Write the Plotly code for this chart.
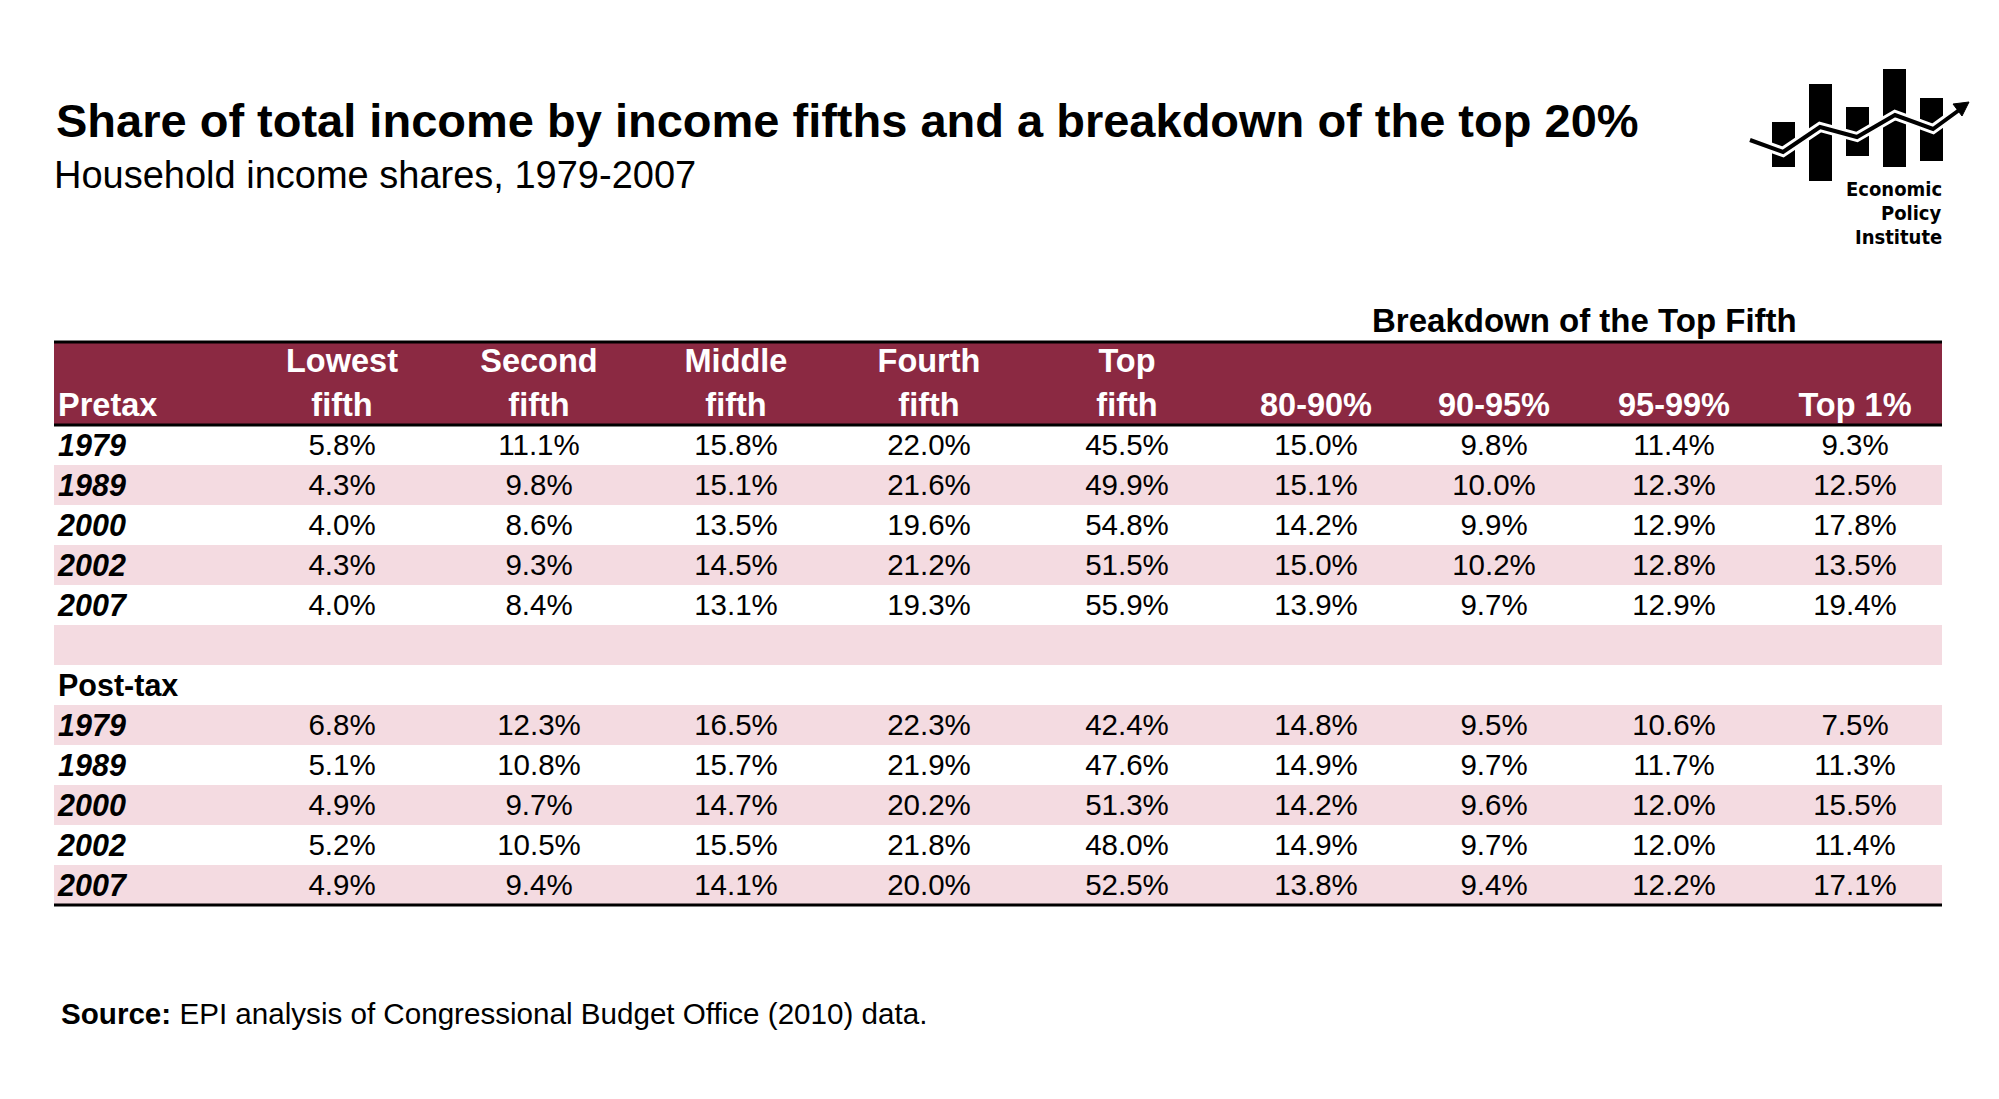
import plotly.graph_objects as go

# ---------------- data ----------------
title = "Share of total income by income fifths and a breakdown of the top 20%"
subtitle = "Household income shares, 1979-2007"
source_label = "Source:"
source_text = "EPI analysis of Congressional Budget Office (2010) data."
group_header = "Breakdown of the Top Fifth"
logo_words = ["Economic", "Policy", "Institute"]

header_line1 = ["", "Lowest", "Second", "Middle", "Fourth", "Top", "", "", "", ""]
header_line2 = ["Pretax", "fifth", "fifth", "fifth", "fifth", "fifth", "80-90%", "90-95%", "95-99%", "Top 1%"]

years = ["1979", "1989", "2000", "2002", "2007"]
section2_label = "Post-tax"

pretax_lowest = [5.8, 4.3, 4.0, 4.3, 4.0]
pretax_second = [11.1, 9.8, 8.6, 9.3, 8.4]
pretax_middle = [15.8, 15.1, 13.5, 14.5, 13.1]
pretax_fourth = [22.0, 21.6, 19.6, 21.2, 19.3]
pretax_top = [45.5, 49.9, 54.8, 51.5, 55.9]
pretax_p80_90 = [15.0, 15.1, 14.2, 15.0, 13.9]
pretax_p90_95 = [9.8, 10.0, 9.9, 10.2, 9.7]
pretax_p95_99 = [11.4, 12.3, 12.9, 12.8, 12.9]
pretax_top1 = [9.3, 12.5, 17.8, 13.5, 19.4]

posttax_lowest = [6.8, 5.1, 4.9, 5.2, 4.9]
posttax_second = [12.3, 10.8, 9.7, 10.5, 9.4]
posttax_middle = [16.5, 15.7, 14.7, 15.5, 14.1]
posttax_fourth = [22.3, 21.9, 20.2, 21.8, 20.0]
posttax_top = [42.4, 47.6, 51.3, 48.0, 52.5]
posttax_p80_90 = [14.8, 14.9, 14.2, 14.9, 13.8]
posttax_p90_95 = [9.5, 9.7, 9.6, 9.7, 9.4]
posttax_p95_99 = [10.6, 11.7, 12.0, 12.0, 12.2]
posttax_top1 = [7.5, 11.3, 15.5, 11.4, 17.1]

# ---------------- layout ----------------
W, H = 1999, 1099
FONT = "Liberation Sans, Arial, sans-serif"
MAROON = "#8B2942"
PINK = "#F4DBE1"

# column edges and row geometry of the table (pixel units on hidden axes)
col_edges = [54, 250, 434, 644, 828, 1030, 1224, 1408, 1580, 1768, 1942]
tbl_top = 342
head_h = 83
row_h = 40
head_line_y = [364, 408]
label_dy = 3

pretax_cols = [pretax_lowest, pretax_second, pretax_middle, pretax_fourth, pretax_top,
               pretax_p80_90, pretax_p90_95, pretax_p95_99, pretax_top1]
posttax_cols = [posttax_lowest, posttax_second, posttax_middle, posttax_fourth, posttax_top,
                posttax_p80_90, posttax_p90_95, posttax_p95_99, posttax_top1]

label_col = ([f"<b><i>{y}</i></b>" for y in years] + ["", f"<b>{section2_label}</b>"]
             + [f"<b><i>{y}</i></b>" for y in years])
n_rows = len(label_col)

# body text grid (rows x columns); first column drawn separately (left aligned)
body_text = []
for r in range(n_rows):
    row = [""]
    for pre, post in zip(pretax_cols, posttax_cols):
        if r < len(years):
            row.append(f"{pre[r]:.1f}%")
        elif r >= len(years) + 2:
            row.append(f"{post[r - len(years) - 2]:.1f}%")
        else:
            row.append("")
    body_text.append(row)

band = [[r % 2] * (len(col_edges) - 1) for r in range(n_rows)]
body_top = tbl_top + head_h
row_edges = [body_top + r * row_h for r in range(n_rows + 1)]
row_centers = [(a + b) / 2 for a, b in zip(row_edges[:-1], row_edges[1:])]
col_centers = [(a + b) / 2 for a, b in zip(col_edges[:-1], col_edges[1:])]
tbl_bottom = row_edges[-1]
cscale = [[0, "white"], [0.5, PINK], [1, MAROON]]

fig = go.Figure()

# header band
fig.add_trace(go.Heatmap(
    x=col_edges, y=[tbl_top, body_top], z=[[2] * (len(col_edges) - 1)],
    zmin=0, zmax=2, colorscale=cscale, showscale=False, hoverinfo="skip",
))
# body bands with values
fig.add_trace(go.Heatmap(
    x=col_edges, y=row_edges, z=band, text=body_text, texttemplate="%{text}",
    textfont=dict(family=FONT, size=29.5, color="black"),
    zmin=0, zmax=2, colorscale=cscale, showscale=False, hoverinfo="skip",
))
# row labels
fig.add_trace(go.Scatter(
    x=[58] * n_rows, y=[c + label_dy for c in row_centers], text=label_col, mode="text",
    textposition="middle right", textfont=dict(family=FONT, size=30.5, color="black"),
    hoverinfo="skip",
))
# header texts
fig.add_trace(go.Scatter(
    x=col_centers[1:], y=[head_line_y[0]] * 9, text=[f"<b>{t}</b>" for t in header_line1[1:]],
    mode="text", textposition="middle center",
    textfont=dict(family=FONT, size=32.5, color="white"), hoverinfo="skip",
))
fig.add_trace(go.Scatter(
    x=col_centers[1:], y=[head_line_y[1]] * 9, text=[f"<b>{t}</b>" for t in header_line2[1:]],
    mode="text", textposition="middle center",
    textfont=dict(family=FONT, size=32.5, color="white"), hoverinfo="skip",
))
fig.add_trace(go.Scatter(
    x=[58], y=[head_line_y[1]], text=[f"<b>{header_line2[0]}</b>"],
    mode="text", textposition="middle right",
    textfont=dict(family=FONT, size=32.5, color="white"), hoverinfo="skip",
))

shapes = []
for y in (tbl_top, body_top, tbl_bottom):
    shapes.append(dict(type="line", xref="x", yref="y", x0=col_edges[0], x1=col_edges[-1],
                       y0=y, y1=y, line=dict(color="black", width=3), layer="above"))

# logo (decorative)
logo_bars = [(1772, 122, 1795, 167), (1809, 84, 1832, 181), (1846, 107, 1869, 156),
             (1883, 69, 1906, 167), (1920, 98, 1943, 161)]
for x0, y0, x1, y1 in logo_bars:
    shapes.append(dict(type="rect", xref="x", yref="y", x0=x0, x1=x1, y0=y0, y1=y1,
                       fillcolor="black", line=dict(width=0)))
logo_line = [(1750, 140), (1783, 152), (1820, 127), (1857, 137), (1895, 115), (1933, 129), (1962, 108)]
path = "M " + " L ".join(f"{x},{y}" for x, y in logo_line)
shapes.append(dict(type="path", xref="x", yref="y", path=path, line=dict(color="white", width=10)))
shapes.append(dict(type="path", xref="x", yref="y", path=path, line=dict(color="black", width=4)))
arrow = [(1969, 102), (1962, 116), (1953, 104)]
shapes.append(dict(type="path", xref="x", yref="y",
                   path="M " + " L ".join(f"{x},{y}" for x, y in arrow) + " Z",
                   fillcolor="black", line=dict(color="black", width=1)))

annotations = [
    dict(text=f"<b>{title}</b>", x=54, y=120, xanchor="left", yanchor="middle",
         font=dict(family=FONT, size=47, color="black")),
    dict(text=subtitle, x=52, y=175, xanchor="left", yanchor="middle",
         font=dict(family=FONT, size=38, color="black")),
    dict(text=f"<b>{group_header}</b>", x=1584, y=320, xanchor="center", yanchor="middle",
         font=dict(family=FONT, size=33, color="black")),
    dict(text=f"<b>{source_label}</b> {source_text}", x=59, y=1013, xanchor="left",
         yanchor="middle", font=dict(family=FONT, size=29.6, color="black")),
]
for word, yy in zip(logo_words, (189, 213, 237)):
    annotations.append(dict(text=f"<b>{word}</b>", x=1944, y=yy, xanchor="right",
                            yanchor="middle",
                            font=dict(family="DejaVu Sans Condensed, DejaVu Sans", size=20,
                                      color="black")))
for a in annotations:
    a.update(xref="x", yref="y", showarrow=False)

fig.update_layout(
    width=W, height=H,
    margin=dict(l=0, r=0, t=0, b=0),
    paper_bgcolor="white", plot_bgcolor="white",
    shapes=shapes, annotations=annotations,
    showlegend=False,
    xaxis=dict(range=[0, W], visible=False, fixedrange=True, domain=[0, 1]),
    yaxis=dict(range=[H, 0], visible=False, fixedrange=True, domain=[0, 1]),
)

fig.write_html("out.html", config={"displayModeBar": False, "staticPlot": True},
               post_script="document.body.style.margin='0';document.body.style.overflow='hidden';")
